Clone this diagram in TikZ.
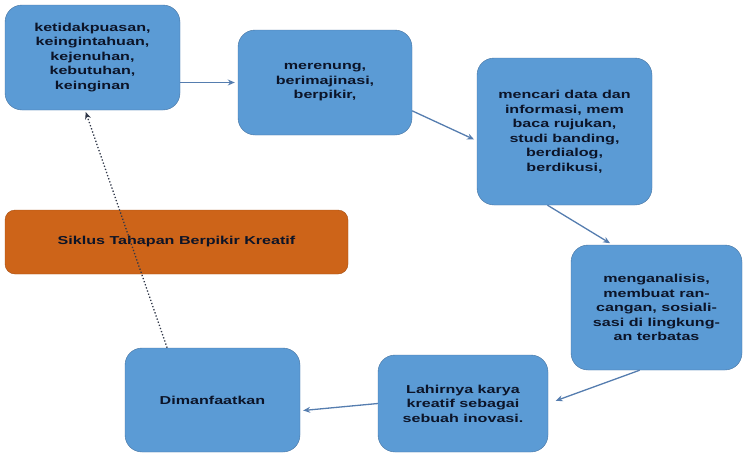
\documentclass[tikz,border=0pt]{standalone}
\usepackage{fontspec}
\setmainfont{Liberation Sans}[FakeStretch=1.4]
\usetikzlibrary{arrows.meta}

\definecolor{stagefill}{RGB}{91,155,213}
\definecolor{stageline}{RGB}{70,115,160}
\definecolor{titlefill}{RGB}{205,100,25}
\definecolor{titleline}{RGB}{165,78,18}
\definecolor{labeltext}{RGB}{12,20,40}
\definecolor{flowline}{RGB}{85,125,175}

\tikzset{
  stage/.style={draw=stageline, fill=stagefill, rounded corners=17pt, align=center,
    text=labeltext, inner sep=0pt, font=\bfseries\fontsize{11.5}{14.5}\selectfont},
  flow/.style={-{Stealth[length=7pt,width=6pt]}, flowline, line width=1.3pt, shorten >=3pt},
}

\begin{document}
\begin{tikzpicture}[x=1pt,y=-1pt]
\useasboundingbox (0,0) rectangle (744,453);

% Stages of the cycle
\node[stage, minimum width=175pt, minimum height=105pt] (need) at (92.5,57.5)
  {ketidakpuasan,\\keingintahuan,\\kejenuhan,\\kebutuhan,\\keinginan};
\node[stage, minimum width=174pt, minimum height=105pt] (reflect) at (325,82.5)
  {merenung,\\berimajinasi,\\berpikir,};
\node[stage, minimum width=175pt, minimum height=147pt] (gather) at (564.5,131.5)
  {mencari data dan\\informasi, mem\\baca rujukan,\\studi banding,\\berdialog,\\berdikusi,};
\node[stage, minimum width=171pt, minimum height=125pt] (analyse) at (656.5,307.5)
  {menganalisis,\\membuat ran-\\cangan, sosiali-\\sasi di lingkung-\\an terbatas};
\node[stage, minimum width=170pt, minimum height=97pt] (innovate) at (463,403.5)
  {Lahirnya karya\\kreatif sebagai\\sebuah inovasi.};
\node[stage, minimum width=175pt, minimum height=104pt] (use) at (212.5,400)
  {Dimanfaatkan};

% Title
\node[draw=titleline, fill=titlefill, rounded corners=10pt, minimum width=343pt,
  minimum height=64pt, text=labeltext, font=\bfseries\fontsize{11.5}{14.5}\selectfont]
  (title) at (176.5,242) {Siklus Tahapan Berpikir Kreatif};

% Connectors
\draw[flow] (need.east |- reflect.west) -- (reflect.west);
\draw[flow] (reflect.-18) -- (gather.-174);
\draw[flow] (gather.-103) -- (analyse.125);
\draw[flow, shorten >=8pt] (analyse.-105) -- (innovate.east);
\draw[flow] (innovate.west) -- (use.-7);
\draw[-{Stealth[length=7pt,width=6pt]}, dotted, line width=1.3pt, labeltext!85,
  shorten >=2pt] (use.131) -- (need.-98);

\end{tikzpicture}
\end{document}
